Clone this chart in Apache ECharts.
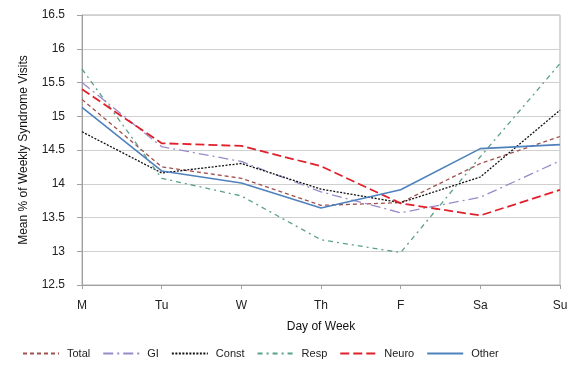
<!DOCTYPE html>
<html><head><meta charset="utf-8">
<script src="https://cdn.jsdelivr.net/npm/echarts@6/dist/echarts.min.js"></script>
<style>html,body{margin:0;padding:0;background:#fff}#c{width:572px;height:366px}</style>
</head><body><div id="c"></div>
<script>
var days = ["M","Tu","W","Th","F","Sa","Su"];
var seriesNames = ["Total","GI","Const","Resp","Neuro","Other"];
var total = [15.25,14.25,14.08,13.68,13.72,14.30,14.70];
var gi    = [15.50,14.55,14.33,13.88,13.57,13.80,14.34];
var cnst  = [14.77,14.16,14.30,13.92,13.72,14.10,15.09];
var resp  = [15.70,14.08,13.82,13.17,12.98,14.40,15.78];
var neuro = [15.40,14.60,14.56,14.26,13.71,13.53,13.91];
var other = [15.13,14.19,14.01,13.64,13.91,14.52,14.58];
var yTicks = [12.5,13,13.5,14,14.5,15,15.5,16,16.5];

var styles = [
  {color:'#a0504d', type:[4,3], width:1.3},
  {color:'#9a8ac8', type:[10,4,2,4], width:1.3},
  {color:'#111111', type:[2,1.5], width:1.3},
  {color:'#5aa08a', type:[5,4,2,4], width:1.3},
  {color:'#e0202a', type:[9,4], width:1.8},
  {color:'#4f81bd', type:'solid', width:1.6}
];
var dataArr = [total,gi,cnst,resp,neuro,other];
var chart = echarts.init(document.getElementById('c'));
var font = 'Liberation Sans, Arial, sans-serif';
chart.setOption({
  animation:false,
  textStyle:{fontFamily:font},
  grid:{left:82,right:12,top:15,bottom:81,show:true,borderColor:'#b0b0b0',borderWidth:1},
  legend:{
    bottom:2, left:17, itemWidth:36, itemHeight:10, itemGap:12,
    itemStyle:{color:'rgba(0,0,0,0)',borderWidth:0,opacity:0},
    textStyle:{fontFamily:font,fontSize:11,color:'#222',padding:[0,0,0,3]},
    data:seriesNames
  },
  xAxis:{
    type:'category', data:days, boundaryGap:false,
    name:'Day of Week', nameLocation:'middle', nameGap:36,
    nameTextStyle:{fontSize:12,color:'#111',fontFamily:font},
    axisLine:{lineStyle:{color:'#a0a0a0'}},
    axisTick:{show:true,length:4,lineStyle:{color:'#a0a0a0'}},
    axisLabel:{fontSize:12,color:'#222',margin:15,fontFamily:font}
  },
  yAxis:{
    type:'value', min:12.5, max:16.5, interval:0.5,
    name:'Mean % of Weekly Syndrome Visits', nameLocation:'middle', nameGap:52,
    nameTextStyle:{fontSize:12,color:'#111',fontFamily:font},
    axisLine:{show:true,lineStyle:{color:'#a0a0a0'}},
    axisTick:{show:true,length:5,lineStyle:{color:'#a0a0a0'}},
    axisLabel:{fontSize:12,color:'#222',margin:17,fontFamily:font,
      formatter:function(v){return String(v);}},
    splitLine:{lineStyle:{color:'#d0d0d0'}}
  },
  series: seriesNames.map(function(n,i){
    return {name:n,type:'line',data:dataArr[i],symbol:'none',showSymbol:false,
      itemStyle:{color:styles[i].color},
      lineStyle:{color:styles[i].color,type:styles[i].type,width:styles[i].width}};
  })
});
</script></body></html>
